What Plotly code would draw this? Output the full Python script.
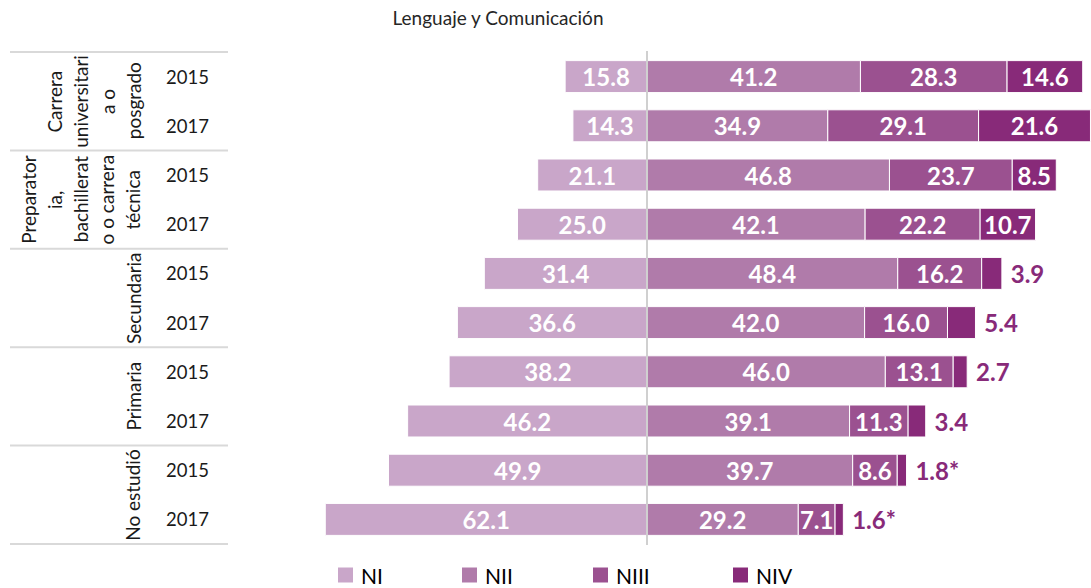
import plotly.graph_objects as go

# ---------------- data ----------------
groups = ["Carrera universitaria o posgrado",
          "Preparatoria, bachillerato o carrera técnica",
          "Secundaria", "Primaria", "No estudió"]
group_lines = [["Carrera", "universitari", "a o", "posgrado"],
               ["Preparator", "ia,", "bachillerat", "o o carrera", "técnica"],
               ["Secundaria"], ["Primaria"], ["No estudió"]]
years = ["2015", "2017"]

n1 = [15.8, 14.3, 21.1, 25.0, 31.4, 36.6, 38.2, 46.2, 49.9, 62.1]
n2 = [41.2, 34.9, 46.8, 42.1, 48.4, 42.0, 46.0, 39.1, 39.7, 29.2]
n3 = [28.3, 29.1, 23.7, 22.2, 16.2, 16.0, 13.1, 11.3, 8.6, 7.1]
n4 = [14.6, 21.6, 8.5, 10.7, 3.9, 5.4, 2.7, 3.4, 1.8, 1.6]
n4_marks = ["", "", "", "", "", "", "", "", "*", "*"]
n4_outside = [False, False, False, False, True, True, True, True, True, True]

level_names = ["NI", "NII", "NIII", "NIV"]
colors = ["#C9A6C9", "#B07BAA", "#9B5190", "#882A79"]

title = "Lenguaje y Comunicación"

# ---------------- figure ----------------
W, H = 1091, 588
MT, MB = 51, 43
PH = H - MT - MB
cats = [f"{g} {y}" for g in groups for y in years]

FONT = "Lato, 'Open Sans', sans-serif"
lab_font = dict(family=FONT, size=24, color="white")


def fmt(v):
    return f"{v:.1f}"


fig = go.Figure()
common = dict(orientation="h", insidetextanchor="middle", textangle=0,
              constraintext="none", hoverinfo="skip", showlegend=False)

fig.add_trace(go.Bar(
    y=cats, x=[-v for v in n1], name=level_names[0],
    marker=dict(color=colors[0], line=dict(color="white", width=1)),
    text=["<b>" + fmt(v) + "</b>" for v in n1], textposition="inside",
    textfont=lab_font, **common))
fig.add_trace(go.Bar(
    y=cats, x=n2, name=level_names[1],
    marker=dict(color=colors[1], line=dict(color="white", width=1)),
    text=["<b>" + fmt(v) + "</b>" for v in n2], textposition="inside",
    textfont=lab_font, **common))
fig.add_trace(go.Bar(
    y=cats, x=n3, name=level_names[2],
    marker=dict(color=colors[2], line=dict(color="white", width=1)),
    text=["<b>" + fmt(v) + "</b>" for v in n3], textposition="inside",
    textfont=lab_font, **common))
fig.add_trace(go.Bar(
    y=cats, x=n4, name=level_names[3],
    marker=dict(color=colors[3], line=dict(color="white", width=1)),
    text=["<b>" + (" " if o else "") + fmt(v) + m + "</b>"
          for v, m, o in zip(n4, n4_marks, n4_outside)],
    textposition=["outside" if o else "inside" for o in n4_outside],
    insidetextfont=lab_font,
    outsidetextfont=dict(family=FONT, size=24, color=colors[3]),
    cliponaxis=False, **common))

zero_px = 647
x_hi = 85.7
px_per_unit = (W - zero_px) / x_hi
x_lo = -zero_px / px_per_unit

fig.update_layout(
    width=W, height=H, barmode="relative", bargap=0.35,
    plot_bgcolor="white", paper_bgcolor="white",
    margin=dict(l=0, r=0, t=MT, b=MB, autoexpand=False),
    font=dict(family=FONT, color="#000000"),
    xaxis=dict(range=[x_lo, x_hi], showgrid=False, zeroline=False,
               showticklabels=False, showline=False, fixedrange=True),
    yaxis=dict(type="category", categoryorder="array", categoryarray=cats,
               autorange="reversed", showgrid=False, zeroline=False,
               showticklabels=False, showline=False),
    showlegend=False,
    title=dict(text=title, x=498 / W, xanchor="center",
               y=1 - 18 / H, yanchor="middle",
               font=dict(family=FONT, size=19, color="#262626")),
)

# centre axis line
fig.add_shape(type="line", xref="x", yref="paper", x0=0, x1=0, y0=0, y1=1,
              line=dict(color="#D0D0D0", width=2), layer="above")

# table separator lines
sep_positions = [-0.5] + [2 * i + 1.5 for i in range(len(groups))]
for yp in sep_positions:
    fig.add_shape(type="line", xref="paper", yref="y",
                  x0=10 / W, x1=228 / W, y0=yp, y1=yp,
                  line=dict(color="#D9D9D9", width=2))

# group labels (rotated, each wrapped line as its own column)
col_right = 133
col_step = 26.2
for gi, lines in enumerate(group_lines):
    n = len(lines)
    for k, ln in enumerate(lines):
        xpx = col_right - (n - 1 - k) * col_step
        fig.add_annotation(x=xpx / W, xref="paper", y=2 * gi + 0.5, yref="y",
                           text=ln, textangle=-90, showarrow=False,
                           xanchor="center", yanchor="middle",
                           font=dict(family=FONT, size=19, color="#1a1a1a"))

# year labels
for i, c in enumerate(cats):
    fig.add_annotation(x=187 / W, xref="paper", y=c, yref="y",
                       text=years[i % 2], showarrow=False,
                       xanchor="center", yanchor="middle",
                       font=dict(family=FONT, size=18.5, color="#1a1a1a"))

# legend (drawn as swatches + labels below the plot)
legend_left_px = [338, 462, 593, 733]
sw = 15
leg_cy = 575


def py(px):
    return (H - MB - px) / PH


for name, col, lx in zip(level_names, colors, legend_left_px):
    fig.add_shape(type="rect", xref="paper", yref="paper",
                  x0=lx / W, x1=(lx + sw) / W,
                  y0=py(leg_cy + sw / 2), y1=py(leg_cy - sw / 2),
                  fillcolor=col, line=dict(width=0))
    fig.add_annotation(x=(lx + sw + 7) / W, xref="paper",
                       y=py(leg_cy), yref="paper",
                       text=name, showarrow=False, xanchor="left",
                       yanchor="middle", borderpad=0,
                       font=dict(family=FONT, size=21, color="#000000"))

fig.write_html("out.html",
               config={"displayModeBar": False},
               post_script="document.body.style.margin='0px';document.body.style.overflow='hidden';")
